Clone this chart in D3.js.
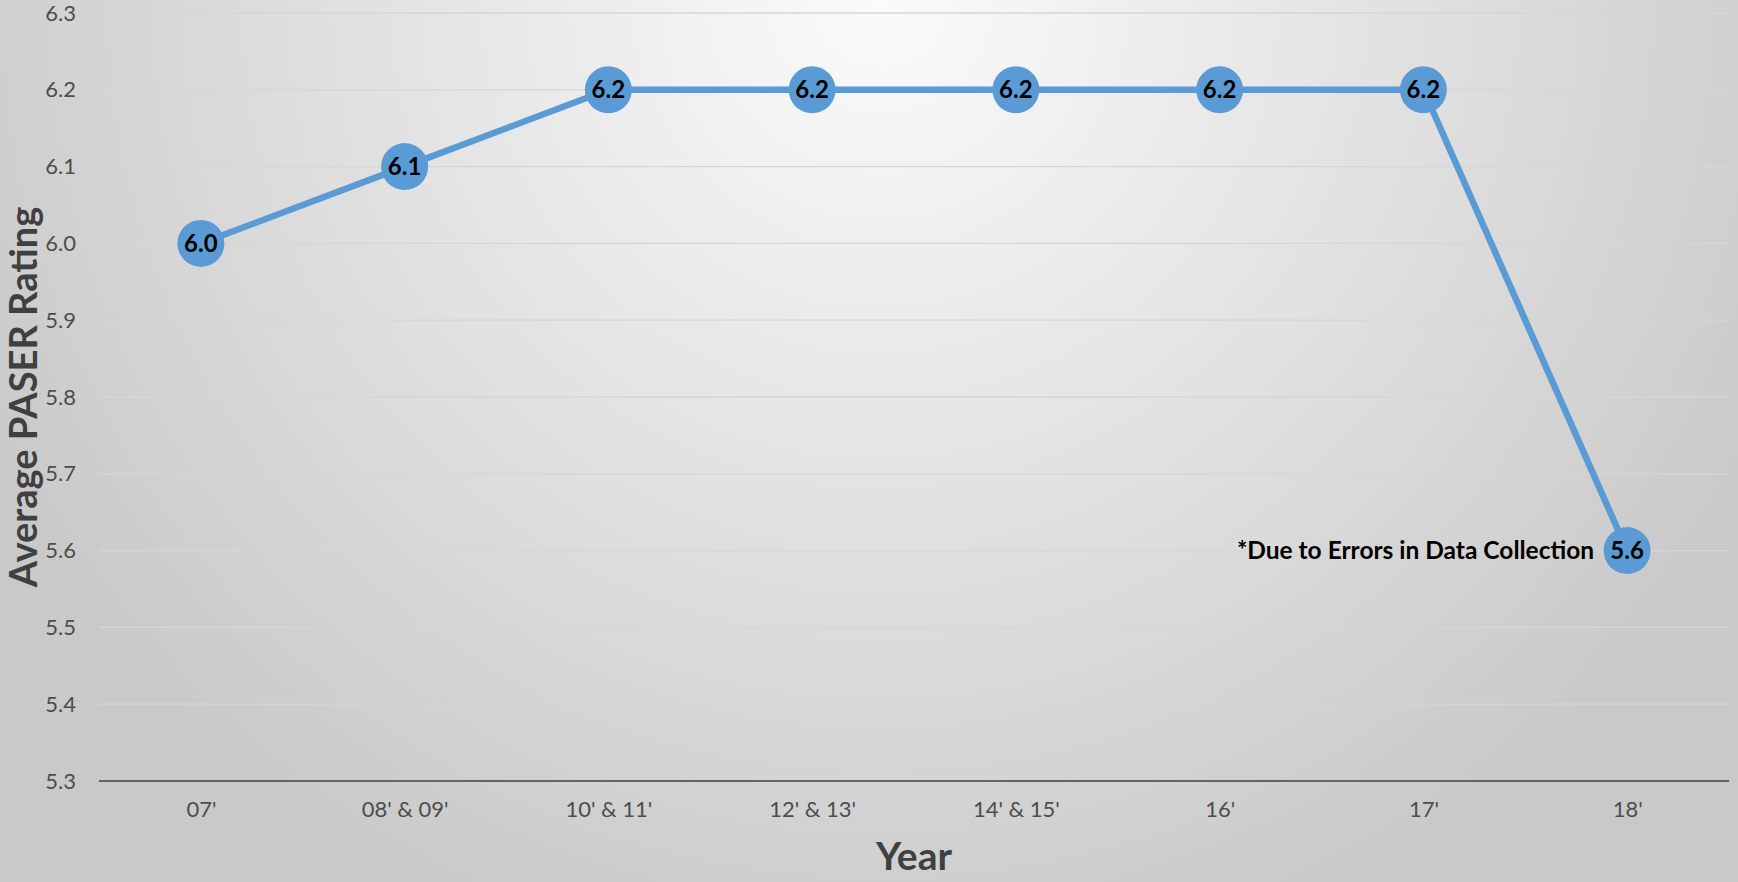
<!DOCTYPE html>
<html lang="en">
    <head>
        <meta charset="UTF-8">
        <title>Average PASER Rating</title>
        <script type="text/javascript" src="https://d3js.org/d3.v7.min.js"></script>
        <style>
         html, body { margin: 0; padding: 0; overflow: hidden; }
         body { font-family: Lato, "Open Sans", Arial; }
        </style>
    </head>

    <body>
      <div id="svgcontainer"></div>
        <script>
            const width = 1738;
            const height = 882;

            // chart data
            const years = ["07'", "08' & 09'", "10' & 11'", "12' & 13'", "14' & 15'", "16'", "17'", "18'"];
            const ratings = [6.0, 6.1, 6.2, 6.2, 6.2, 6.2, 6.2, 5.6];
            const yTicks = [5.3, 5.4, 5.5, 5.6, 5.7, 5.8, 5.9, 6.0, 6.1, 6.2, 6.3];
            const note = "*Due to Errors in Data Collection";
            const noteIndex = 7;

            const margin = { top: 13, right: 9, bottom: 101, left: 99 };

            const svg = d3.select("#svgcontainer")
                .append("svg")
                .attr("width", width)
                .attr("height", height);

            // background gradient
            const grad = svg.append("defs")
                .append("radialGradient")
                .attr("id", "bg")
                .attr("gradientUnits", "userSpaceOnUse")
                .attr("cx", 880).attr("cy", 0)
                .attr("r", 1000);
            grad.append("stop").attr("offset", "0%").attr("stop-color", "#fbfbfb");
            grad.append("stop").attr("offset", "100%").attr("stop-color", "#c9c9c9");

            svg.append("rect")
                .attr("width", width)
                .attr("height", height)
                .attr("fill", "url(#bg)");

            const x = d3.scalePoint()
                .domain(years)
                .range([margin.left, width - margin.right])
                .padding(0.5);

            const y = d3.scaleLinear()
                .domain([5.3, 6.3])
                .range([height - margin.bottom, margin.top]);

            // gridlines
            svg.append("g")
                .selectAll("line")
                .data(yTicks.slice(1))
                .enter().append("line")
                .attr("x1", margin.left)
                .attr("x2", width - margin.right)
                .attr("y1", d => y(d))
                .attr("y2", d => y(d))
                .attr("stroke", "#d6d6d6")
                .attr("stroke-width", 1.3);

            // y axis labels
            const yAxis = svg.append("g")
                .attr("transform", `translate(${margin.left},0)`)
                .call(d3.axisLeft(y).tickValues(yTicks).tickFormat(d3.format(".1f")).tickSize(0).tickPadding(23));
            yAxis.select(".domain").remove();
            yAxis.selectAll("text")
                .attr("fill", "#4d4d4d")
                .style("font-family", "Lato, 'Open Sans', Arial")
                .style("font-size", "22px");

            // x axis
            const xAxis = svg.append("g")
                .attr("transform", `translate(0,${y(5.3)})`)
                .call(d3.axisBottom(x).tickSize(0).tickPadding(20));
            xAxis.select(".domain")
                .attr("d", `M${margin.left},0H${width - margin.right}`)
                .attr("stroke", "#404040")
                .attr("stroke-width", 1.5);
            xAxis.selectAll("text")
                .attr("fill", "#4d4d4d")
                .style("font-family", "Lato, 'Open Sans', Arial")
                .style("font-size", "22px");

            // axis titles
            svg.append("text")
                .attr("x", (margin.left + width - margin.right) / 2)
                .attr("y", 870)
                .attr("text-anchor", "middle")
                .attr("fill", "#404040")
                .style("font-weight", "bold")
                .style("font-size", "39px")
                .text("Year");

            svg.append("text")
                .attr("transform", `translate(37,${(y(5.3) + y(6.3)) / 2}) rotate(-90)`)
                .attr("text-anchor", "middle")
                .attr("fill", "#404040")
                .style("font-weight", "bold")
                .style("font-size", "38px")
                .text("Average PASER Rating");

            // line
            const line = d3.line()
                .x((d, i) => x(years[i]))
                .y(d => y(d));

            svg.append("path")
                .datum(ratings)
                .attr("d", line)
                .attr("fill", "none")
                .attr("stroke", "#5b9bd5")
                .attr("stroke-width", 6.5);

            // markers
            svg.append("g")
                .selectAll("circle")
                .data(ratings)
                .enter().append("circle")
                .attr("cx", (d, i) => x(years[i]))
                .attr("cy", d => y(d))
                .attr("r", 23.5)
                .attr("fill", "#5b9bd5");

            // value labels
            svg.append("g")
                .selectAll("text")
                .data(ratings)
                .enter().append("text")
                .attr("x", (d, i) => x(years[i]))
                .attr("y", d => y(d))
                .attr("dy", "0.36em")
                .attr("text-anchor", "middle")
                .attr("fill", "#000")
                .style("font-weight", "bold")
                .style("font-size", "24px")
                .text(d => d3.format(".1f")(d));

            // note next to last point
            svg.append("text")
                .attr("x", x(years[noteIndex]) - 33)
                .attr("y", y(ratings[noteIndex]))
                .attr("dy", "0.36em")
                .attr("text-anchor", "end")
                .attr("fill", "#000")
                .style("font-weight", "bold")
                .style("font-size", "24.5px")
                .text(note);
        </script>
    </body>
</html>
